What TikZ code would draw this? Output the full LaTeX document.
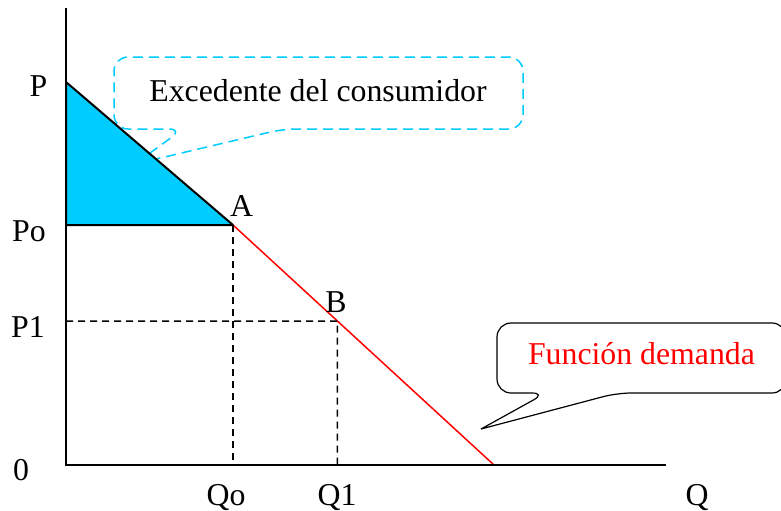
\documentclass[tikz,border=0pt]{standalone}
\usepackage{fontspec}
\setmainfont{Liberation Serif}
\usetikzlibrary{calc}
\definecolor{excblue}{RGB}{0,204,255}
\tikzset{
  lbl/.style={anchor=base,inner sep=0pt,font=\fontsize{15.9}{19}\selectfont},
  guide/.style={line width=0.75pt,dash pattern=on 3.5pt off 2.5pt},
  axis/.style={line width=1pt}
}
\begin{document}
\begin{tikzpicture}[x=0.5pt,y=-0.5pt]
	\useasboundingbox (0,0) rectangle (781,510);
	% puntos de la curva
	\coordinate (ytop) at (66,8);
	\coordinate (O) at (66,465);
	\coordinate (xend) at (666,465);
	\coordinate (P) at (66,82);
	\coordinate (Po) at (66,225);
	\coordinate (P1) at (66,321);
	\coordinate (A) at (233,225);
	\coordinate (E) at (494,465);
	\coordinate (B) at ($(A)!0.4!(E)$);
	\coordinate (tipexc) at (135,164);
	\coordinate (tipdem) at (481,429);
	% bocadillo del excedente
	\draw[excblue,line width=0.75pt,dash pattern=on 5pt off 3pt,rounded corners=7pt]
		(tipexc) -- (283,129) -- (523,129) -- (523,57) -- (114,57) -- (114,129) -- (183,129) -- (tipexc);
	% excedente del consumidor
	\filldraw[fill=excblue,draw=black,line width=1pt,line join=round] (P) -- (A) -- (Po) -- cycle;
	\draw[red,line width=0.75pt] (A) -- (E);
	\draw[guide] (A) -- (A |- O);
	\draw[guide] (P1) -- (B) -- (B |- O);
	\draw[axis] (ytop) -- (O) -- (xend);
	% bocadillo de la demanda
	\draw[line width=0.6pt,rounded corners=7pt]
		(tipdem) -- (617,393) -- (786,393) -- (786,323) -- (497,323) -- (497,393) -- (546,393) -- (tipdem);
	\node[lbl] (exc) at (318,101) {Excedente del consumidor};
	\node[lbl,text=red] (dem) at (641.5,364) {Función demanda};
	% etiquetas
	\node[lbl] (lP) at (38.5,96) {P};
	\node[lbl] (lPo) at (29,241) {Po};
	\node[lbl] (lP1) at (28,337) {P1};
	\node[lbl] (l0) at (21,480) {0};
	\node[lbl] (lQo) at (226,505) {Qo};
	\node[lbl] (lQ1) at (337,505) {Q1};
	\node[lbl] (lQ) at (697,505) {Q};
	\node[lbl] (lA) at (241.5,216) {A};
	\node[lbl] (lB) at (336,312) {B};
\end{tikzpicture}
\end{document}
